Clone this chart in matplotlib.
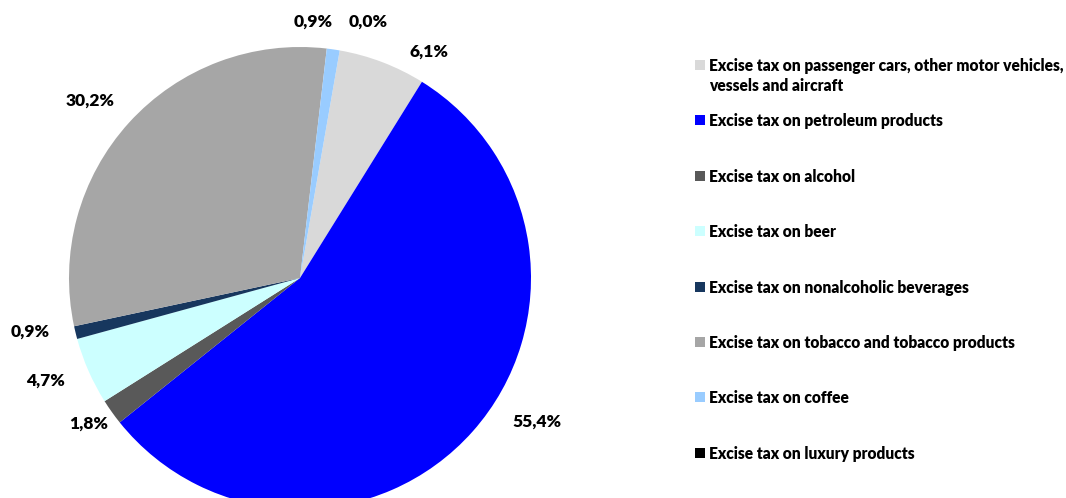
import matplotlib.pyplot as plt

# excise tax revenue structure, share in %
categories = [
    "Excise tax on passenger cars, other motor vehicles,\nvessels and aircraft",
    "Excise tax on petroleum products",
    "Excise tax on alcohol",
    "Excise tax on beer",
    "Excise tax on nonalcoholic beverages",
    "Excise tax on tobacco and tobacco products",
    "Excise tax on coffee",
    "Excise tax on luxury products",
]
shares = [6.1, 55.4, 1.8, 4.7, 0.9, 30.2, 0.9, 0.0]
colors = ["#d9d9d9", "#0000ff", "#595959", "#ccffff",
          "#17375e", "#a6a6a6", "#99ccff", "#000000"]

# where the value labels sit (pixels, from bottom left)
label_xy = [(429, 446), (537, 76), (89, 74), (46, 117),
            (30, 166), (90, 397), (313, 476), (368, 476)]

plt.rcParams['font.family'] = ['Lato', 'DejaVu Sans']

fig = plt.figure(figsize=(10.66, 4.98), dpi=100)
ax = fig.add_axes([0, 0, 1, 1])

ax.pie(shares, colors=colors, startangle=80.1, counterclock=False,
       radius=231, center=(300, 220), frame=True,
       wedgeprops=dict(linewidth=0))
ax.set_xlim(0, 1066)
ax.set_ylim(0, 498)
ax.set_aspect('equal')
ax.axis('off')

for val, (x, y) in zip(shares, label_xy):
    ax.text(x, y, f"{val:.1f}%".replace('.', ','), ha='center', va='center',
            fontsize=12.5, fontweight='heavy')

# legend drawn by hand so the wrapped first entry lines up like the rest
for i, (lab, c) in enumerate(zip(categories, colors)):
    y = 433 - i * 55.4
    ax.add_patch(plt.Rectangle((695, y - 5), 10, 10, color=c, linewidth=0))
    ax.text(709, y + 7, lab, ha='left', va='top', fontsize=11.2,
            fontweight='heavy', linespacing=1.3)

fig.savefig("out.png", dpi=100)
